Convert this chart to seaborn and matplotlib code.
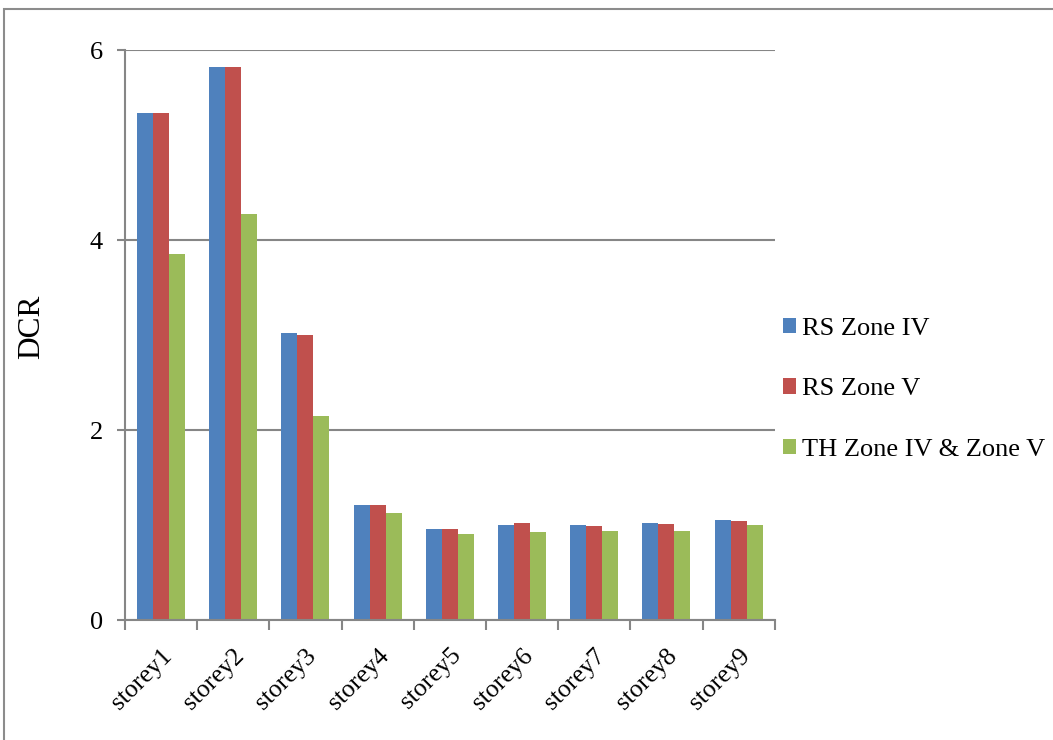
import matplotlib
matplotlib.use('Agg')
import matplotlib.pyplot as plt
from matplotlib.patches import Rectangle
import seaborn as sns
import pandas as pd
import numpy as np

# Dados (DCR por pavimento)
storeys = ['storey1', 'storey2', 'storey3', 'storey4', 'storey5',
           'storey6', 'storey7', 'storey8', 'storey9']
rs_zone_iv = [5.34, 5.82, 3.02, 1.21, 0.96, 1.00, 1.00, 1.02, 1.05]
rs_zone_v = [5.34, 5.82, 3.00, 1.21, 0.96, 1.02, 0.99, 1.01, 1.04]
th_zone_iv_v = [3.86, 4.28, 2.15, 1.13, 0.91, 0.93, 0.94, 0.94, 1.00]
series_names = ['RS Zone IV', 'RS Zone V', 'TH Zone IV & Zone V']
colors = ['#4F81BD', '#C0504D', '#9BBB59']

df = pd.DataFrame({
    'Storey': storeys,
    series_names[0]: rs_zone_iv,
    series_names[1]: rs_zone_v,
    series_names[2]: th_zone_iv_v,
})
df_melted = df.melt(id_vars='Storey', var_name='Series', value_name='DCR')

sns.set_style('white')
plt.rcParams['font.family'] = ['Liberation Serif', 'DejaVu Serif']
plt.rcParams['text.color'] = 'black'
plt.rcParams['xtick.labelcolor'] = 'black'
plt.rcParams['ytick.labelcolor'] = 'black'
plt.rcParams['axes.labelcolor'] = 'black'

fig = plt.figure(figsize=(10.53, 7.4), dpi=100)
ax = fig.add_axes([0.1187, 0.162, 0.617, 0.770])

sns.barplot(data=df_melted, x='Storey', y='DCR', hue='Series',
            palette=colors, width=0.665, gap=0, saturation=1,
            edgecolor='none', ax=ax)

ax.set_ylim(0, 6)
ax.set_xlim(-0.5, len(storeys) - 0.5)
ax.set_yticks([0, 2, 4, 6])
ax.yaxis.grid(True, color='#868686', linewidth=1.5)
ax.set_axisbelow(True)

for s in ['top', 'right']:
    ax.spines[s].set_visible(False)
for s in ['left', 'bottom']:
    ax.spines[s].set_color('#868686')
    ax.spines[s].set_linewidth(1.5)

ax.tick_params(axis='y', which='major', left=True, length=6, width=1.5,
               color='#868686', labelsize=19, pad=10)
ax.tick_params(axis='x', which='major', bottom=False, labelsize=18.5, pad=14)
ax.set_xticks(np.arange(-0.5, len(storeys)), minor=True)
ax.tick_params(axis='x', which='minor', bottom=True, length=7, width=1.5,
               color='#868686')
plt.setp(ax.get_xticklabels(), rotation=45, ha='right', rotation_mode='anchor')

ax.set_xlabel('')
ax.set_ylabel('DCR', fontsize=22.5)
ax.yaxis.set_label_coords(-0.1215, 0.515)

handles, labels = ax.get_legend_handles_labels()
ax.legend(handles, labels, loc='center left', bbox_to_anchor=(0.997, 0.405),
          frameon=False, fontsize=19, handlelength=0.5, handleheight=0.5,
          handletextpad=0.2, labelspacing=1.45, borderaxespad=0.0)

# moldura cinza ao redor do gráfico
fig.patches.append(Rectangle((4 / 1053, -0.02), 1.1, 1 - 9 / 740 + 0.02,
                             transform=fig.transFigure, fill=False,
                             edgecolor='#8c8c8c', linewidth=1.5))

fig.savefig('out.png', dpi=100)
